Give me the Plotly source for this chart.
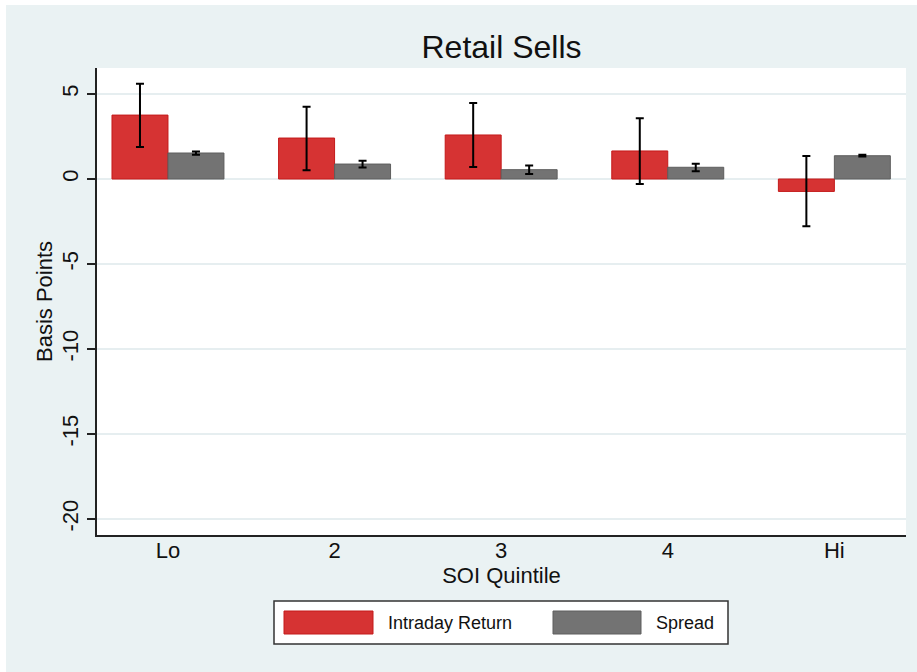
import plotly.graph_objects as go

categories = ["Lo", "2", "3", "4", "Hi"]
intraday = [3.76, 2.41, 2.59, 1.65, -0.73]
intraday_lo = [1.88, 0.51, 0.71, -0.29, -2.78]
intraday_hi = [5.60, 4.25, 4.47, 3.57, 1.35]
spread = [1.53, 0.88, 0.55, 0.69, 1.37]
spread_lo = [1.43, 0.68, 0.30, 0.46, 1.32]
spread_hi = [1.62, 1.07, 0.79, 0.90, 1.42]
y_ticks = [5, 0, -5, -10, -15, -20]

W, H = 917, 672
L, R, T, B = 97, 906, 68, 535
FONT = "Liberation Sans, Arial, Helvetica, sans-serif"
BG = "#EAF2F3"
RED, RED_EDGE = "#D63333", "#C41A1A"
GRAY, GRAY_EDGE = "#737373", "#5E5E5E"


def px(x):
    return (x - L) / (R - L)


def py(y):
    return (B - y) / (B - T)


fig = go.Figure()
fig.add_trace(go.Bar(
    x=categories, y=intraday, name="Intraday Return",
    marker=dict(color=RED, line=dict(color=RED_EDGE, width=1)),
    error_y=dict(type="data", symmetric=False,
                 array=[h - v for h, v in zip(intraday_hi, intraday)],
                 arrayminus=[v - l for v, l in zip(intraday, intraday_lo)],
                 color="black", thickness=2, width=4),
))
fig.add_trace(go.Bar(
    x=categories, y=spread, name="Spread",
    marker=dict(color=GRAY, line=dict(color=GRAY_EDGE, width=1)),
    error_y=dict(type="data", symmetric=False,
                 array=[h - v for h, v in zip(spread_hi, spread)],
                 arrayminus=[v - l for v, l in zip(spread, spread_lo)],
                 color="black", thickness=2, width=4),
))

shapes = [
    # white strips around the outside of the graph region
    dict(type="rect", xref="paper", yref="paper", x0=px(0), x1=px(W), y0=py(5), y1=py(-5),
         fillcolor="white", line=dict(width=0), layer="below"),
    dict(type="rect", xref="paper", yref="paper", x0=px(-5), x1=px(6), y0=py(H + 5), y1=py(-5),
         fillcolor="white", line=dict(width=0), layer="below"),
    # legend box
    dict(type="rect", xref="paper", yref="paper", x0=px(274), x1=px(728), y0=py(644), y1=py(601),
         fillcolor="white", line=dict(color="#333333", width=1.5)),
    dict(type="rect", xref="paper", yref="paper", x0=px(284), x1=px(373), y0=py(634), y1=py(611),
         fillcolor=RED, line=dict(color=RED_EDGE, width=1)),
    dict(type="rect", xref="paper", yref="paper", x0=px(553), x1=px(641), y0=py(634), y1=py(611),
         fillcolor=GRAY, line=dict(color=GRAY_EDGE, width=1)),
]

annotations = [
    dict(text="Intraday Return", xref="paper", yref="paper", x=px(386), y=py(623),
         xanchor="left", yanchor="middle", showarrow=False,
         font=dict(family=FONT, size=18, color="#111111")),
    dict(text="Spread", xref="paper", yref="paper", x=px(654), y=py(623),
         xanchor="left", yanchor="middle", showarrow=False,
         font=dict(family=FONT, size=18, color="#111111")),
]

fig.update_layout(
    width=W, height=H,
    margin=dict(l=L, r=W - R, t=T, b=H - B),
    paper_bgcolor=BG, plot_bgcolor="white",
    barmode="group", bargap=0.328, bargroupgap=0,
    showlegend=False,
    font=dict(family=FONT, color="#111111"),
    title=dict(text="Retail Sells", x=0.5, xref="paper", y=1 - 47 / H, yref="container",
               xanchor="center", yanchor="middle",
               font=dict(family=FONT, size=32, color="#111111")),
    xaxis=dict(
        range=[-0.426, 4.43], showgrid=False, zeroline=False,
        showline=True, linecolor="#222222", linewidth=1.5, ticks="",
        ticklabelstandoff=-5,
        tickfont=dict(family=FONT, size=22, color="#111111"),
        title=dict(text="SOI Quintile", font=dict(family=FONT, size=22, color="#111111"), standoff=4),
    ),
    yaxis=dict(
        range=[-20.94, 6.53], tickvals=y_ticks, ticktext=[str(v) for v in y_ticks],
        tickangle=-90, showgrid=True, gridcolor="#E6EEF0", gridwidth=1.5, zeroline=False,
        showline=True, linecolor="#222222", linewidth=1.5,
        ticks="outside", ticklen=8, tickwidth=1.5, tickcolor="#222222",
        tickfont=dict(family=FONT, size=22, color="#111111"),
        title=dict(text="Basis Points", font=dict(family=FONT, size=22, color="#111111"), standoff=0),
    ),
    shapes=shapes, annotations=annotations,
)

fig.write_html("out.html")
